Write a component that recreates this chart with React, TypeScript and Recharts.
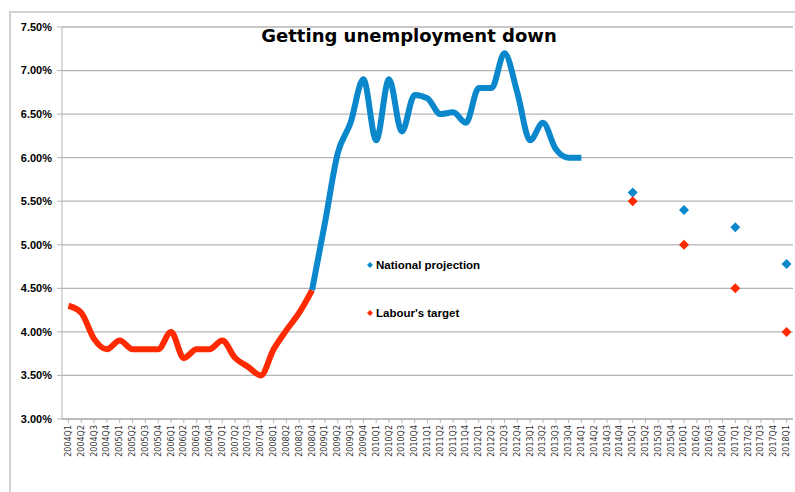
import { ComposedChart, Line, XAxis, YAxis, CartesianGrid, Legend } from 'recharts'

const QUARTERS = [
  '2004Q1', '2004Q2', '2004Q3', '2004Q4', '2005Q1', '2005Q2', '2005Q3', '2005Q4',
  '2006Q1', '2006Q2', '2006Q3', '2006Q4', '2007Q1', '2007Q2', '2007Q3', '2007Q4',
  '2008Q1', '2008Q2', '2008Q3', '2008Q4', '2009Q1', '2009Q2', '2009Q3', '2009Q4',
  '2010Q1', '2010Q2', '2010Q3', '2010Q4', '2011Q1', '2011Q2', '2011Q3', '2011Q4',
  '2012Q1', '2012Q2', '2012Q3', '2012Q4', '2013Q1', '2013Q2', '2013Q3', '2013Q4',
  '2014Q1', '2014Q2', '2014Q3', '2014Q4', '2015Q1', '2015Q2', '2015Q3', '2015Q4',
  '2016Q1', '2016Q2', '2016Q3', '2016Q4', '2017Q1', '2017Q2', '2017Q3', '2017Q4',
  '2018Q1',
]

// 2004Q1 .. 2008Q4 (red part of the history line)
const EARLY_START = '2004Q1'
const EARLY_RATE = [
  4.3, 4.22, 3.92, 3.8, 3.9, 3.8, 3.8, 3.8, 4.0, 3.7, 3.8, 3.8, 3.9, 3.7, 3.6, 3.5,
  3.8, 4.02, 4.22, 4.48,
]

// 2008Q4 .. 2014Q1 (blue part)
const LATE_START = '2008Q4'
const LATE_RATE = [
  4.48, 5.25, 6.05, 6.4, 6.9, 6.2, 6.9, 6.3, 6.72, 6.68, 6.5, 6.52, 6.4, 6.8, 6.8, 7.2,
  6.75, 6.2, 6.4, 6.1, 6.0, 6.0,
]

const TARGET_QUARTERS = ['2015Q1', '2016Q1', '2017Q1', '2018Q1']
const NATIONAL_PROJECTION = [5.6, 5.4, 5.2, 4.78]
const LABOUR_TARGET = [5.5, 5.0, 4.5, 4.0]

const Y_TICKS = [3, 3.5, 4, 4.5, 5, 5.5, 6, 6.5, 7, 7.5]

const BLUE = '#0b87cb'
const RED = '#ff2a00'
const GRID = '#b4b4b4'

const earlyIdx = QUARTERS.indexOf(EARLY_START)
const lateIdx = QUARTERS.indexOf(LATE_START)

const data = QUARTERS.map((q, i) => {
  const tIdx = TARGET_QUARTERS.indexOf(q)
  const e = i - earlyIdx
  const l = i - lateIdx
  return {
    q,
    early: e >= 0 && e < EARLY_RATE.length ? EARLY_RATE[e] : null,
    late: l >= 0 && l < LATE_RATE.length ? LATE_RATE[l] : null,
    national: tIdx >= 0 ? NATIONAL_PROJECTION[tIdx] : null,
    labour: tIdx >= 0 ? LABOUR_TARGET[tIdx] : null,
  }
})

const diamond = (color: string) => (props: any) => {
  const { cx, cy, value, index } = props
  if (value == null || cy == null) return <g key={index} />
  const r = 5
  return (
    <path
      key={index}
      d={`M${cx},${cy - r}L${cx + r},${cy}L${cx},${cy + r}L${cx - r},${cy}Z`}
      fill={color}
    />
  )
}

const QuarterTick = ({ x, y, payload }: any) => (
  <text
    x={x}
    y={y}
    transform={`rotate(-90, ${x}, ${y})`}
    textAnchor="end"
    dominantBaseline="central"
    fontSize={8}
    fill="#333"
    fontFamily="DejaVu Sans"
  >
    {payload.value}
  </text>
)

const LegendBox = () => (
  <div style={{ fontFamily: 'Liberation Sans', fontWeight: 'bold', fontSize: 11.5, color: '#000' }}>
    {[
      { name: 'National projection', color: BLUE },
      { name: "Labour's target", color: RED },
    ].map((it, i) => (
      <div key={it.name} style={{ display: 'flex', alignItems: 'center', height: 16, marginBottom: i === 0 ? 32 : 0 }}>
        <svg width={8} height={8} style={{ marginRight: 2 }}>
          <path d="M4,1L7,4L4,7L1,4Z" fill={it.color} />
        </svg>
        {it.name}
      </div>
    ))}
  </div>
)

export default function App() {
  return (
    <div style={{ position: 'absolute', left: 0, top: 0, width: 795, height: 492, background: '#fff' }}>
      <div
        style={{
          position: 'absolute', left: 9, top: 11, width: 786, height: 481,
          borderLeft: '2px solid #d2d2d2', borderTop: '2px solid #d2d2d2', boxSizing: 'border-box',
        }}
      />
      <ComposedChart
        width={795}
        height={492}
        data={data}
        margin={{ top: 27, right: 2, left: 10, bottom: 0 }}
        style={{ position: 'absolute', left: 0, top: 0 }}
      >
        <CartesianGrid vertical={false} stroke={GRID} strokeWidth={1.3} />
        <XAxis
          dataKey="q"
          scale="band"
          interval={0}
          height={73}
          tick={<QuarterTick />}
          tickSize={4}
          tickMargin={2}
          axisLine={{ stroke: GRID }}
          tickLine={{ stroke: GRID }}
        />
        <YAxis
          domain={[3, 7.5]}
          ticks={Y_TICKS}
          width={52}
          tickSize={5}
          tickMargin={5}
          axisLine={{ stroke: GRID }}
          tickLine={{ stroke: GRID }}
          tickFormatter={(v: number) => v.toFixed(2) + '%'}
          tick={{ fontSize: 11, fontWeight: 'bold', fill: '#000', fontFamily: 'Liberation Sans' }}
        />
        <Line
          dataKey="early"
          type="monotone"
          stroke={RED}
          strokeWidth={6}
          dot={false}
          activeDot={false}
          legendType="none"
          isAnimationActive={false}
        />
        <Line
          dataKey="late"
          type="monotone"
          stroke={BLUE}
          strokeWidth={6}
          dot={false}
          activeDot={false}
          legendType="none"
          isAnimationActive={false}
        />
        <Line
          dataKey="national"
          stroke="none"
          dot={diamond(BLUE)}
          activeDot={false}
          isAnimationActive={false}
        />
        <Line
          dataKey="labour"
          stroke="none"
          dot={diamond(RED)}
          activeDot={false}
          isAnimationActive={false}
        />
        <Legend
          layout="vertical"
          align="center"
          verticalAlign="middle"
          content={() => <LegendBox />}
          wrapperStyle={{ position: 'absolute', left: 366, top: 257, width: 160 }}
        />
      </ComposedChart>
      <div
        style={{
          position: 'absolute', left: 0, top: 25, width: 818, textAlign: 'center',
          fontFamily: 'DejaVu Sans', fontWeight: 'bold', fontSize: 18, color: '#000',
        }}
      >
        Getting unemployment down
      </div>
    </div>
  )
}
